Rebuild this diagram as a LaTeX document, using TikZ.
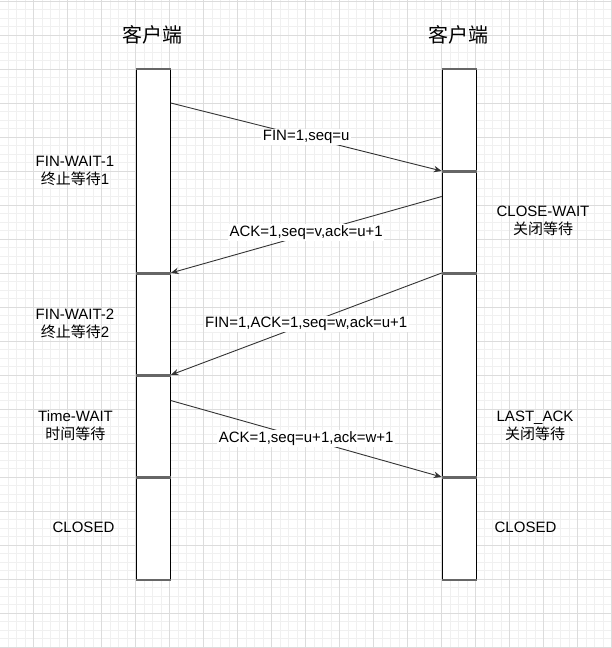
\documentclass[tikz,border=0pt]{standalone}
\usepackage{fontspec}
\setmainfont{Liberation Sans}
\newfontfamily\cjk{Noto Sans CJK SC}
\usetikzlibrary{arrows.meta}
\definecolor{gridminor}{HTML}{F0F0F0}
\definecolor{gridmajor}{HTML}{DCDCDC}
\definecolor{edgegray}{HTML}{666666}
\definecolor{arrowgray}{HTML}{333333}
\tikzset{
  seg/.style={draw=black, line width=1pt, fill=white, minimum width=34pt, inner sep=0pt, anchor=north west},
  msg/.style={draw=arrowgray, line width=0.9pt, -{Stealth[length=8pt,width=6.5pt]}},
  lbl/.style={fill=white, inner sep=1.5pt, font=\fontsize{15}{18}\selectfont, text=black},
  state/.style={align=center, inner sep=0pt, font=\fontsize{15}{18}\selectfont},
  title/.style={inner sep=0pt, font=\fontsize{20}{24}\selectfont\cjk}
}
\begin{document}
\begin{tikzpicture}[x=1pt,y=-1pt]
\useasboundingbox (0,0) rectangle (612,648);
\fill[white] (0,0) rectangle (612,648);
% grid
\foreach \i in {0,...,72} {
  \draw[gridminor, line width=0.6pt] ({-0.3+8.5*\i},0) -- ({-0.3+8.5*\i},648);
}
\foreach \i in {0,...,76} {
  \draw[gridminor, line width=0.6pt] (0,{1+8.5*\i}) -- (612,{1+8.5*\i});
}
\foreach \i in {0,...,18} {
  \draw[gridmajor, line width=0.8pt] ({-0.3+34*\i},0) -- ({-0.3+34*\i},648);
}
\foreach \i in {0,...,19} {
  \draw[gridmajor, line width=0.8pt] (0,{1+34*\i}) -- (612,{1+34*\i});
}
% titles
\node[title] (tl) at (152.5,35) {客户端};
\node[title] (tr) at (458.5,35) {客户端};
% left lifeline segments
\node[seg, minimum height=204pt] (L1) at (135.7,69) {};
\node[seg, minimum height=102pt] (L2) at (135.7,273) {};
\node[seg, minimum height=102pt] (L3) at (135.7,375) {};
\node[seg, minimum height=102pt] (L4) at (135.7,477) {};
% right lifeline segments
\node[seg, minimum height=102pt] (R1) at (441.7,69) {};
\node[seg, minimum height=102pt] (R2) at (441.7,171) {};
\node[seg, minimum height=204pt] (R3) at (441.7,273) {};
\node[seg, minimum height=102pt] (R4) at (441.7,477) {};
% gray horizontal edges
\foreach \n in {L1,L2,L3,L4,R1,R2,R3,R4} {
  \draw[edgegray, line width=1.1pt] (\n.north west) -- (\n.north east);
  \draw[edgegray, line width=1.1pt] (\n.south west) -- (\n.south east);
}
% messages
\draw[msg] ([yshift=-34pt]L1.north east) -- node[lbl] {FIN=1,seq=u} (R2.north west);
\draw[msg] ([yshift=-25.5pt]R2.north west) -- node[lbl, yshift=2pt] {ACK=1,seq=v,ack=u+1} (L2.north east);
\draw[msg] (R3.north west) -- node[lbl] {FIN=1,ACK=1,seq=w,ack=u+1} (L3.north east);
\draw[msg] ([yshift=-25.5pt]L3.north east) -- node[lbl] {ACK=1,seq=u+1,ack=w+1} (R4.north west);
% left states
\node[state] (s1) at (75,171) {FIN-WAIT-1\\{\cjk 终止等待}1};
\node[state] (s2) at (75,324) {FIN-WAIT-2\\{\cjk 终止等待}2};
\node[state] (s3) at (75.5,426) {Time-WAIT\\{\cjk 时间等待}};
\node[state] (s4) at (83.5,527.5) {CLOSED};
% right states
\node[state] (r1) at (543,221) {CLOSE-WAIT\\{\cjk 关闭等待}};
\node[state] (r2) at (535,426) {LAST\_ACK\\{\cjk 关闭等待}};
\node[state] (r3) at (525.5,527.5) {CLOSED};
\end{tikzpicture}
\end{document}
